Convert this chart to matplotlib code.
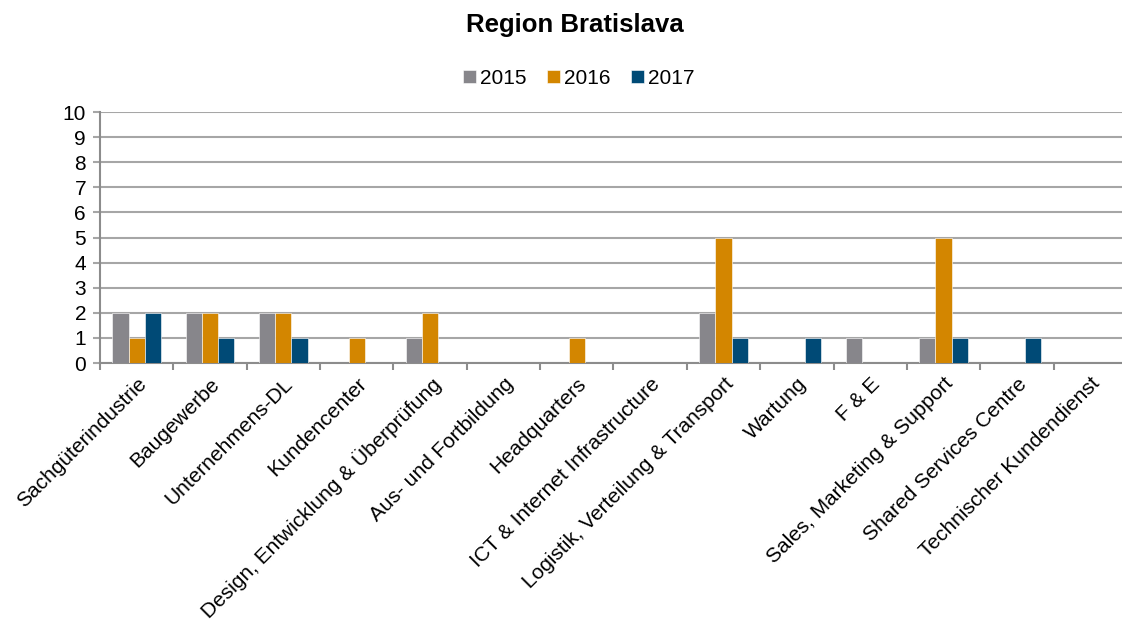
import numpy as np
import matplotlib
matplotlib.use("Agg")
import matplotlib.pyplot as plt

plt.rcParams["font.family"] = ["Liberation Sans", "DejaVu Sans"]

categories = [
    "Sachgüterindustrie",
    "Baugewerbe",
    "Unternehmens-DL",
    "Kundencenter",
    "Design, Entwicklung & Überprüfung",
    "Aus- und Fortbildung",
    "Headquarters",
    "ICT & Internet Infrastructure",
    "Logistik, Verteilung & Transport",
    "Wartung",
    "F & E",
    "Sales, Marketing & Support",
    "Shared Services Centre",
    "Technischer Kundendienst",
]
v2015 = [2, 2, 2, 0, 1, 0, 0, 0, 2, 0, 1, 1, 0, 0]
v2016 = [1, 2, 2, 1, 2, 0, 1, 0, 5, 0, 0, 5, 0, 0]
v2017 = [2, 1, 1, 0, 0, 0, 0, 0, 1, 1, 0, 1, 1, 0]

series = [("2015", v2015, "#87868B"), ("2016", v2016, "#D38600"), ("2017", v2017, "#004A76")]

fig = plt.figure(figsize=(11.22, 6.26), dpi=100)
# plot area runs slightly past the right edge of the picture (cropped like the original)
ax = fig.add_axes([0.0891, 0.42, 0.9153, 0.401])

x = np.arange(len(categories))
w = 0.22
for i, (name, vals, col) in enumerate(series):
    ax.bar(x + (i - 1) * w, vals, width=w, color=col, label=name,
           edgecolor="white", linewidth=0.4, zorder=3)

ax.set_xlim(-0.5, len(categories) - 0.5)
ax.set_ylim(0, 10)
ax.set_yticks(range(0, 11))
ax.yaxis.grid(True, color="#A6A6A6", linewidth=1.5, zorder=0)
ax.set_axisbelow(True)

# tick marks between categories, labels at category centres
ax.set_xticks(np.arange(len(categories) + 1) - 0.5, minor=False)
ax.set_xticklabels([])
ax.set_xticks(x, minor=True)
ax.set_xticklabels(categories, minor=True, rotation=45, ha="right",
                   rotation_mode="anchor", fontsize=15)
ax.tick_params(axis="x", which="minor", length=0, pad=8)
ax.tick_params(axis="x", which="major", length=5, color="#8C8C8C", width=1.5)
ax.tick_params(axis="y", length=5, color="#A6A6A6", width=1.5, labelsize=15, pad=5)

for s in ["top", "right"]:
    ax.spines[s].set_visible(False)
for s in ["left", "bottom"]:
    ax.spines[s].set_color("#8C8C8C")
    ax.spines[s].set_linewidth(1.5)

fig.text(0.512, 0.96, "Region Bratislava", fontsize=18.5, fontweight="bold",
         ha="center", va="center")
fig.legend(loc="upper center", bbox_to_anchor=(0.516, 0.92), ncol=3, frameon=False,
           fontsize=15, handlelength=0.6, handleheight=0.6, handletextpad=0.2,
           columnspacing=1.0)

fig.savefig("out.png", dpi=100)
